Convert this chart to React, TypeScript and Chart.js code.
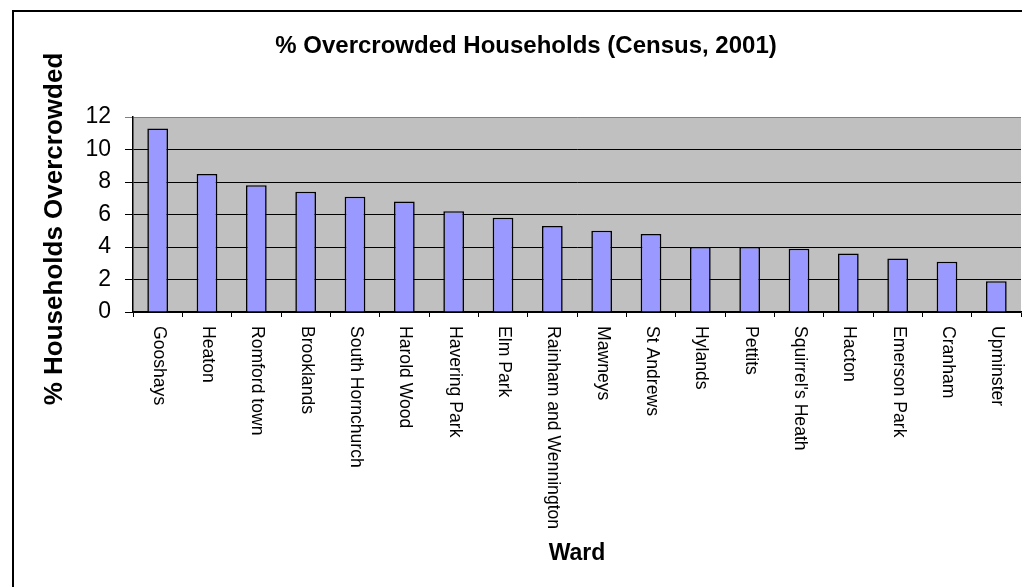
import React, { useEffect, useRef } from "react";
import { Chart, registerables } from "chart.js";

Chart.register(...registerables);

const wards = [
  "Gooshays",
  "Heaton",
  "Romford town",
  "Brooklands",
  "South Hornchurch",
  "Harold Wood",
  "Havering Park",
  "Elm Park",
  "Rainham and Wennington",
  "Mawneys",
  "St Andrews",
  "Hylands",
  "Pettits",
  "Squirrel's Heath",
  "Hacton",
  "Emerson Park",
  "Cranham",
  "Upminster",
];

const overcrowdedPct = [
  11.3, 8.5, 7.8, 7.4, 7.1, 6.8, 6.2, 5.8, 5.3, 5.0, 4.8, 4.0, 4.0, 3.9, 3.6, 3.3, 3.1, 1.9,
];

const yMin = 0;
const yMax = 12;
const yStep = 2;

const chartTitle = "% Overcrowded Households (Census, 2001)";
const yAxisTitle = "% Households Overcrowded";
const xAxisTitle = "Ward";

const FONT = "Arial, 'Liberation Sans', sans-serif";

const decorPlugin = {
  id: "decor",
  beforeDraw(chart: any) {
    const { ctx, chartArea, width, height } = chart;
    ctx.save();
    ctx.fillStyle = "#ffffff";
    ctx.fillRect(0, 0, width, height);
    // outer chart border
    ctx.strokeStyle = "#000000";
    ctx.lineWidth = 2;
    ctx.strokeRect(13, 11, width + 20, height + 20);
    // plot area background
    ctx.fillStyle = "#C0C0C0";
    ctx.fillRect(chartArea.left, chartArea.top, chartArea.right - chartArea.left, chartArea.bottom - chartArea.top);
    ctx.restore();
  },
  afterDraw(chart: any) {
    const { ctx, scales } = chart;
    const xs = scales.x;
    ctx.save();
    ctx.fillStyle = "#000000";
    // main title
    ctx.font = `bold 24px ${FONT}`;
    ctx.textAlign = "center";
    ctx.textBaseline = "alphabetic";
    ctx.fillText(chartTitle, 526, 53);
    // x axis title
    ctx.font = `bold 23px ${FONT}`;
    ctx.fillText(xAxisTitle, (chart.chartArea.left + chart.chartArea.right) / 2, 560);
    // y axis title
    ctx.save();
    ctx.translate(62, 229);
    ctx.rotate(-Math.PI / 2);
    ctx.font = `bold 26px ${FONT}`;
    ctx.textAlign = "center";
    ctx.textBaseline = "alphabetic";
    ctx.fillText(yAxisTitle, 0, 0);
    ctx.restore();
    // x category labels, rotated to read downward
    ctx.font = `17.6px ${FONT}`;
    ctx.textAlign = "left";
    ctx.textBaseline = "middle";
    wards.forEach((label, i) => {
      const x = xs.getPixelForValue(i);
      ctx.save();
      ctx.translate(x + 1, chart.chartArea.bottom + 14);
      ctx.rotate(Math.PI / 2);
      ctx.fillText(label, 0, 0);
      ctx.restore();
    });
    ctx.restore();
  },
};

export default function App() {
  const canvasRef = useRef<HTMLCanvasElement | null>(null);

  useEffect(() => {
    const canvas = canvasRef.current;
    if (!canvas) return;
    const chart = new Chart(canvas, {
      type: "bar",
      data: {
        labels: wards,
        datasets: [
          {
            label: "% Overcrowded",
            data: overcrowdedPct,
            backgroundColor: "#9999FF",
            borderColor: "#000000",
            borderWidth: 1.6,
            barPercentage: 0.42,
            categoryPercentage: 1,
          },
        ],
      },
      options: {
        animation: false,
        responsive: false,
        maintainAspectRatio: false,
        devicePixelRatio: 1,
        layout: { padding: { top: 117, left: 0, right: 1, bottom: 0 } },
        plugins: {
          legend: { display: false },
          title: { display: false },
          tooltip: { enabled: false },
        },
        scales: {
          x: {
            type: "category",
            offset: true,
            ticks: { display: false },
            grid: {
              offset: true,
              drawOnChartArea: false,
              drawTicks: true,
              tickLength: 5,
              color: "#000000",
              lineWidth: 1,
            },
            border: { display: true, color: "#000000", width: 1.5 },
            afterFit: (s: any) => {
              s.height = 275;
            },
          },
          y: {
            min: yMin,
            max: yMax,
            ticks: {
              stepSize: yStep,
              color: "#000000",
              padding: 14,
              font: { family: FONT, size: 23 },
            },
            grid: {
              color: (c: any) => (c.tick && c.tick.value === yMax ? "#808080" : "#000000"),
              lineWidth: 1,
              tickLength: 8,
              drawTicks: true,
            },
            border: { display: true, color: "#000000", width: 1.5 },
            afterFit: (s: any) => {
              s.width = 133;
            },
          },
        },
      },
      plugins: [decorPlugin],
    });
    return () => {
      chart.destroy();
    };
  }, []);

  return (
    <div style={{ position: "fixed", left: 0, top: 0, width: 1022, height: 587, background: "#fff" }}>
      <canvas ref={canvasRef} width={1022} height={587} style={{ display: "block", width: 1022, height: 587 }} />
    </div>
  );
}
